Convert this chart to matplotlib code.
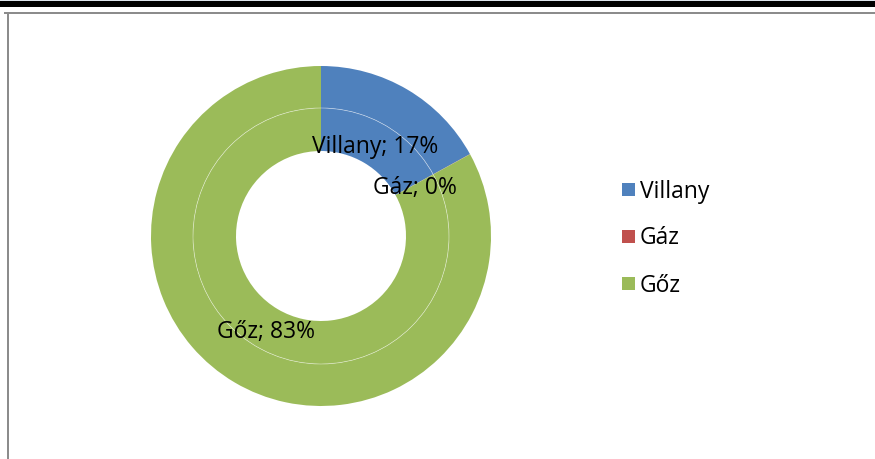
import numpy as np
import matplotlib
matplotlib.use("Agg")
import matplotlib.pyplot as plt
from matplotlib.patches import Rectangle, Circle

categories = ["Villany", "Gáz", "Gőz"]
values = [17.0, 0.02, 83.0]
pct_labels = ["17%", "0%", "83%"]
colors = ["#4F81BD", "#C0504D", "#9BBB59"]

W, H = 875, 460
fig = plt.figure(figsize=(W / 100, H / 100), dpi=100)
ax = fig.add_axes([0, 0, 1, 1])

cx, cy = 321, H - 237
r_out, r_mid, r_in = 170, 128, 85

ax.pie(values, colors=colors, startangle=90, counterclock=False,
       radius=r_out, center=(cx, cy),
       wedgeprops=dict(width=r_out - r_mid, edgecolor="none", linewidth=0))
ax.pie(values, colors=colors, startangle=90, counterclock=False,
       radius=r_mid, center=(cx, cy),
       wedgeprops=dict(width=r_mid - r_in, edgecolor="none", linewidth=0))
ax.add_patch(Circle((cx, cy), r_mid, fill=False, edgecolor="white", linewidth=0.5, alpha=0.55))

ax.set_xlim(0, W)
ax.set_ylim(0, H)
ax.set_aspect("equal")
ax.axis("off")

font = "Open Sans"
# data labels
total = sum(values)
ang = 90.0
for cat, v, p in zip(categories, values, pct_labels):
    span = 360.0 * v / total
    mid = np.deg2rad(ang - span / 2)
    ang -= span
    rl = 107
    ax.text(cx + rl * np.cos(mid), cy + rl * np.sin(mid) - 2.5, f"{cat}; {p}",
            ha="center", va="center", fontsize=16.5, family=font, color="black")

# legend
for i, (cat, c) in enumerate(zip(categories, colors)):
    y = H - (190 + 47 * i)
    ax.add_patch(Rectangle((622, y - 6.5), 13, 13, facecolor=c, edgecolor="none"))
    ax.text(640, y - 1.5, cat, ha="left", va="center", fontsize=16.5, family=font, color="black")

# frame decorations
fig.patches.append(Rectangle((0, (H - 2) / H), 1, 2 / H, transform=fig.transFigure,
                             facecolor="#DDE4EC", edgecolor="none"))
fig.patches.append(Rectangle((0, (H - 8) / H), 1, 6 / H, transform=fig.transFigure,
                             facecolor="black", edgecolor="none"))
fig.patches.append(Rectangle((4 / W, (H - 14.5) / H), 1, 2 / H, transform=fig.transFigure,
                             facecolor="#8C8C8C", edgecolor="none"))
fig.patches.append(Rectangle((7 / W, 0), 2 / W, (H - 12.5) / H, transform=fig.transFigure,
                             facecolor="#8C8C8C", edgecolor="none"))

fig.savefig("out.png", dpi=100)
